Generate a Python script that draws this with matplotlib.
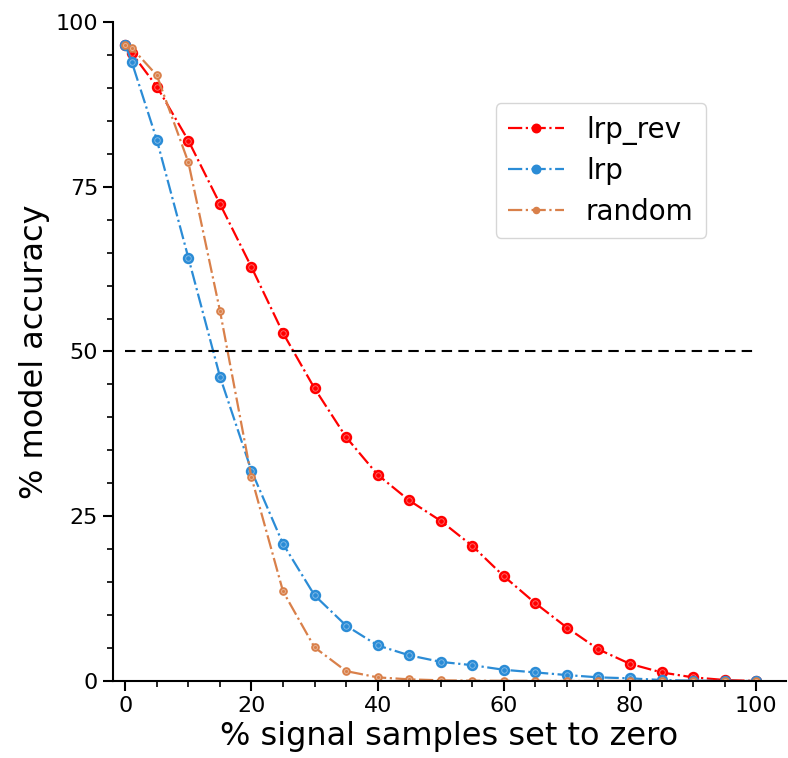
import matplotlib
matplotlib.use("Agg")
import matplotlib.pyplot as plt
from matplotlib.ticker import MultipleLocator

x = [0, 1, 5, 10, 15, 20, 25, 30, 35, 40, 45, 50, 55, 60, 65, 70, 75, 80, 85, 90, 95, 100]
lrp_rev = [96.5, 95.3, 90.2, 82.0, 72.4, 62.8, 52.8, 44.4, 37.0, 31.3, 27.4, 24.3, 20.5, 15.9, 11.8, 8.1, 4.8, 2.6, 1.3, 0.55, 0.15, 0.0]
lrp = [96.5, 94.0, 82.1, 64.2, 46.2, 31.9, 20.8, 13.0, 8.4, 5.4, 3.9, 2.9, 2.4, 1.7, 1.3, 0.9, 0.55, 0.4, 0.15, 0.05, 0.02, 0.0]
random_ = [96.5, 96.1, 91.9, 78.7, 56.2, 30.9, 13.6, 5.1, 1.5, 0.55, 0.25, 0.1, 0.05, 0.03, 0.02, 0.01, 0.0, 0.0, 0.0, 0.0, 0.0, 0.0]
threshold = 50

series = [
    ("lrp_rev", lrp_rev, "#ff0000", 7.2),
    ("lrp", lrp, "#2b8cd6", 7.2),
    ("random", random_, "#d9804a", 5.2),
]

fig = plt.figure(figsize=(7.88, 7.58), dpi=100)
ax = fig.add_axes([0.143, 0.1016, 0.855, 0.8694])

for name, vals, col, ms in series:
    ax.plot(x, vals, linestyle="-.", color=col, lw=1.6, marker="o", ms=ms,
            mfc=col, mec=col, label=name)
    ax.plot(x, vals, linestyle="none", marker="o", ms=ms * 0.55, mfc="none",
            mec="white", mew=0.6, alpha=0.45)

ax.plot([0, 100], [threshold, threshold], color="black", ls="--", lw=1.5, dashes=(5, 3))

ax.set_xlim(-2, 104.8)
ax.set_ylim(0, 100)
ax.xaxis.set_major_locator(MultipleLocator(20))
ax.xaxis.set_minor_locator(MultipleLocator(5))
ax.yaxis.set_major_locator(MultipleLocator(25))
ax.yaxis.set_minor_locator(MultipleLocator(5))
ax.tick_params(which="major", length=7, width=1.5, labelsize=16)
ax.tick_params(which="minor", length=4, width=1.2)
for s in ["top", "right"]:
    ax.spines[s].set_visible(False)
for s in ["left", "bottom"]:
    ax.spines[s].set_linewidth(1.5)

ax.set_xlabel("% signal samples set to zero", fontsize=23)
ax.set_ylabel("% model accuracy", fontsize=23)

ax.legend(loc="upper right", bbox_to_anchor=(0.881, 0.877), borderaxespad=0,
          fontsize=20, handlelength=2.0, borderpad=0.45, labelspacing=0.45,
          markerscale=0.85)

fig.savefig("out.png", dpi=100)
